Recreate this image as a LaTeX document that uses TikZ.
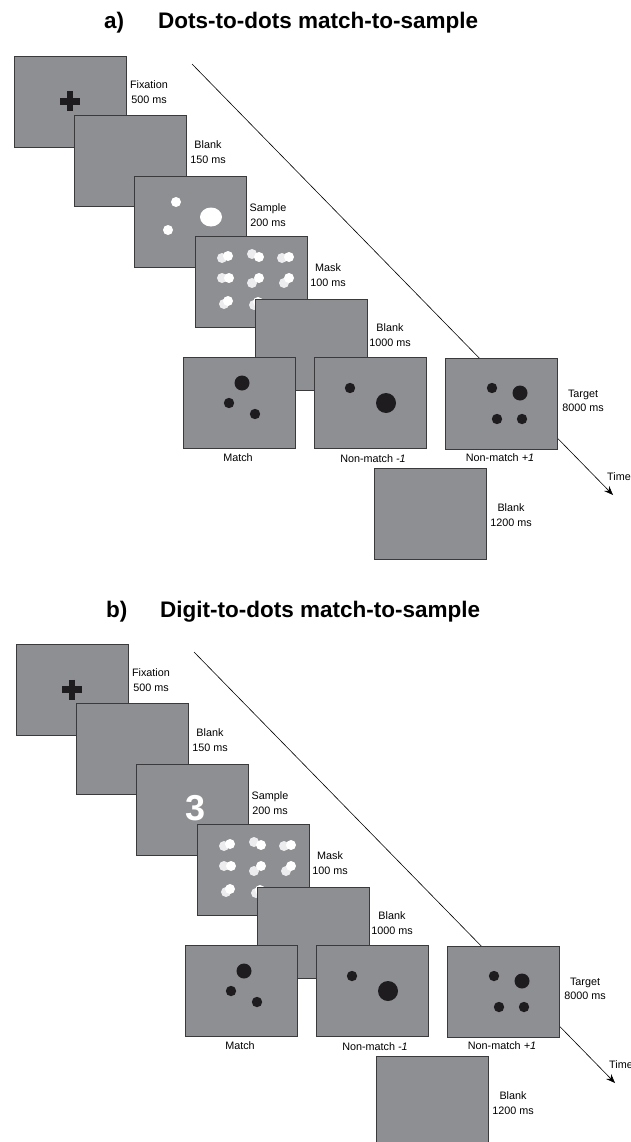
\documentclass[tikz,border=0pt]{standalone}
\usepackage{fontspec}
\setmainfont{Liberation Sans}
\usetikzlibrary{arrows.meta}
\definecolor{screengray}{RGB}{142,143,147}
\definecolor{screenedge}{RGB}{58,58,60}
\definecolor{dotblack}{RGB}{30,28,30}
\definecolor{maskwhite}{RGB}{236,236,238}
\tikzset{
  screen/.style={draw=screenedge, fill=screengray, line width=0.9pt,
    minimum width=112pt, minimum height=91pt, inner sep=0pt},
  timing/.style={align=center, inner sep=0pt, font=\fontsize{10.8pt}{14.5pt}\selectfont},
  heading/.style={anchor=base west, inner sep=0pt, font=\fontsize{22.5pt}{26pt}\selectfont\bfseries},
  timeline/.style={line width=0.6pt, -{Stealth[length=9pt,width=7pt]}}
}
\begin{document}
\begin{tikzpicture}[x=1pt, y=-1pt]
\useasboundingbox (0,0) rectangle (631,1142);
\foreach \Panel/\Dx/\Dy/\Title in {a/0/0/Dots-to-dots match-to-sample, b/2/588/Digit-to-dots match-to-sample}{
  \begin{scope}[shift={(\Dx,\Dy)}]
    \node[heading] (letter\Panel) at (104,29) {\Panel)};
    \node[heading] (title\Panel) at (158,29) {\Title};
    \coordinate (tstart\Panel) at (192,64);
    \coordinate (tend\Panel) at (613,495);
    \draw[timeline] (tstart\Panel) -- (tend\Panel);
    \node[timing, anchor=west] (time\Panel) at (607,477) {Time};
    % fixation
    \node[screen] (fix\Panel) at (70,101.5) {};
    \draw[dotblack, line width=6.5pt] (60,101.5) -- (80,101.5) (70,91.5) -- (70,111.5);
    \node[timing] (fixlabel\Panel) at (149,92) {Fixation\\500 ms};
    % blank
    \node[screen] (blankA\Panel) at (130.5,160.5) {};
    \node[timing] (blankAlabel\Panel) at (208,152) {Blank\\150 ms};
    % sample
    \node[screen] (sample\Panel) at (190,221.5) {};
    \if\Panel a
      \foreach \Point in {(176,202), (168,230)}{
        \fill[white] \Point circle[radius=5pt];
      }
      \fill[white] (211,217) ellipse[x radius=11pt, y radius=9.5pt];
    \else
      \node[text=white, inner sep=0pt, font=\fontsize{36pt}{36pt}\selectfont\bfseries] (digit\Panel) at (194,220) {3};
    \fi
    \node[timing] (samplelabel\Panel) at (268,215) {Sample\\200 ms};
    % mask
    \node[screen] (mask\Panel) at (251.5,282) {};
    \foreach \Xa/\Ya/\Xb/\Yb in {222/258/228/256, 252/254/259/257, 282/258/289/257,
        222/278/229/278, 252/283/259/278, 284/283/289/278, 224/304/228/301, 254/305/258/302}{
      \fill[maskwhite] (\Xa,\Ya) circle[radius=5pt];
      \fill[white] (\Xb,\Yb) circle[radius=5pt];
    }
    \node[timing] (masklabel\Panel) at (328,275) {Mask\\100 ms};
    % blank
    \node[screen] (blankB\Panel) at (311.5,344.5) {};
    \node[timing] (blankBlabel\Panel) at (390,335) {Blank\\1000 ms};
    % targets
    \node[screen] (match\Panel) at (239,403) {};
    \fill[dotblack] (242,383) circle[radius=7.5pt];
    \foreach \Point in {(229,403), (255,414)}{
      \fill[dotblack] \Point circle[radius=5.2pt];
    }
    \node[timing] (matchlabel\Panel) at (238,458) {Match};
    \node[screen] (minus\Panel) at (370,403) {};
    \fill[dotblack] (350,388) circle[radius=5.2pt];
    \fill[dotblack] (386,403) circle[radius=10pt];
    \node[timing] (minuslabel\Panel) at (373,459) {Non-match \textit{-1}};
    \node[screen] (plus\Panel) at (501.5,403.5) {};
    \fill[dotblack] (520,393) circle[radius=7.5pt];
    \foreach \Point in {(492,388), (497,419), (522,419)}{
      \fill[dotblack] \Point circle[radius=5.2pt];
    }
    \node[timing] (pluslabel\Panel) at (500,458) {Non-match \textit{+1}};
    \node[timing] (targetlabel\Panel) at (583,401) {Target\\8000 ms};
    % blank
    \node[screen] (blankC\Panel) at (430,514) {};
    \node[timing] (blankClabel\Panel) at (511,515) {Blank\\1200 ms};
  \end{scope}
}
\end{tikzpicture}
\end{document}
